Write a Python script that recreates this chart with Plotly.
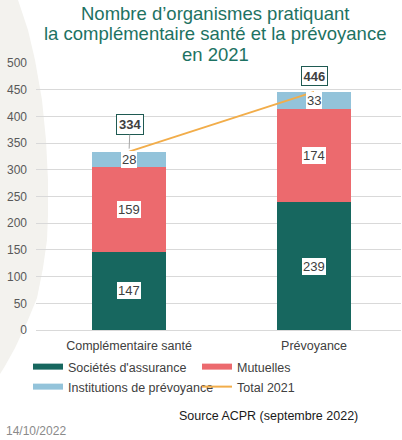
import plotly.graph_objects as go

# ---- data ----
categories = ["Complémentaire santé", "Prévoyance"]
societes = [147, 239]
mutuelles = [159, 174]
institutions = [28, 33]
totals = [334, 446]
series_names = ["Sociétés d'assurance", "Mutuelles", "Institutions de prévoyance", "Total 2021"]
y_ticks = [0, 50, 100, 150, 200, 250, 300, 350, 400, 450, 500]

title_lines = ["Nombre d’organismes pratiquant",
               "la complémentaire santé et la prévoyance",
               "en 2021"]
source_text = "Source ACPR (septembre 2022)"
date_text = "14/10/2022"

# ---- style ----
C_TEAL = "#17675f"
C_RED = "#ec6a6e"
C_BLUE = "#93c3da"
C_ORANGE = "#f2ad4a"
C_TITLE = "#1d7262"
C_TEXT = "#404040"
FONT = "Liberation Sans, Arial, sans-serif"

W, H = 402, 440
ML, MR, MT, MB = 36, 1, 63, 110
PW, PH = W - ML - MR, H - MT - MB


def px(x):
    return (x - ML) / PW


def py(y):
    return 1 - (y - MT) / PH


fig = go.Figure()

for name, vals, col in [(series_names[0], societes, C_TEAL),
                        (series_names[1], mutuelles, C_RED),
                        (series_names[2], institutions, C_BLUE)]:
    fig.add_trace(go.Bar(x=categories, y=vals, name=name, marker_color=col,
                         marker_line_width=0, width=0.4, showlegend=False,
                         hoverinfo="x+y+name"))

fig.add_trace(go.Scatter(x=categories, y=totals, mode="lines", name=series_names[3],
                         line=dict(color=C_ORANGE, width=2), showlegend=False))

# legend-only entries (rectangular swatches), two rows = two legends
for name, col, w, leg in [(series_names[0], C_TEAL, 6, "legend"),
                          (series_names[1], C_RED, 6, "legend"),
                          (series_names[2], C_BLUE, 6, "legend2"),
                          (series_names[3], C_ORANGE, 2, "legend2")]:
    fig.add_trace(go.Scatter(x=[None], y=[None], mode="lines", name=name,
                             line=dict(color=col, width=w), showlegend=True, legend=leg))

# segment labels
annotations = []
for i, cat in enumerate(categories):
    base = 0
    for vals in (societes, mutuelles, institutions):
        v = vals[i]
        annotations.append(dict(x=cat, y=base + v / 2, xref="x", yref="y", text=str(v),
                                showarrow=False, bgcolor="white", borderpad=1,
                                borderwidth=0, bordercolor="rgba(0,0,0,0)",
                                font=dict(family=FONT, size=13, color=C_TEXT)))
        base += v

# total labels
annotations.append(dict(x=categories[0], y=totals[0], xref="x", yref="y",
                        text="<b>%d</b>" % totals[0], showarrow=True, arrowhead=0,
                        arrowwidth=1, arrowcolor="#a6a6a6", ax=1, ay=-27, standoff=3,
                        bgcolor="white", bordercolor="#1f5a52", borderwidth=1, borderpad=2,
                        font=dict(family=FONT, size=13, color=C_TEXT)))
annotations.append(dict(x=categories[1], y=totals[1], xref="x", yref="y",
                        text="<b>%d</b>" % totals[1], showarrow=False, yshift=16,
                        bgcolor="white", bordercolor="#1f5a52", borderwidth=1, borderpad=1.5,
                        font=dict(family=FONT, size=13, color=C_TEXT)))

# title
for txt, yc in zip(title_lines, [13, 34, 55]):
    annotations.append(dict(x=px(215), y=py(yc), xref="paper", yref="paper", text=txt,
                            showarrow=False, xanchor="center", yanchor="middle",
                            font=dict(family=FONT, size=18.5, color=C_TITLE)))

annotations.append(dict(x=px(268), y=py(416), xref="paper", yref="paper", text=source_text,
                        showarrow=False, xanchor="center", yanchor="middle",
                        font=dict(family=FONT, size=12.5, color="#1a1a1a")))
annotations.append(dict(x=px(4), y=py(431), xref="paper", yref="paper", text=date_text,
                        showarrow=False, xanchor="left", yanchor="middle",
                        font=dict(family=FONT, size=12, color="#8a8a8a")))

# beige decorative background arc on the left
edge = [(18, 0), (28, 30), (35, 60), (42, 100), (46, 140), (48, 180), (48, 215),
        (47, 240), (43, 268), (37, 298), (28, 320), (15, 348), (5, 366), (0, 374)]
path = "M %f,%f " % (px(0), py(0))
for ex, ey in edge:
    path += "L %f,%f " % (px(ex), py(ey))
path += "L %f,%f Z" % (px(0), py(374))

legend_common = dict(orientation="h", xanchor="left", yanchor="middle",
                     entrywidth=124, entrywidthmode="pixels", bgcolor="rgba(0,0,0,0)",
                     font=dict(family=FONT, size=12.5, color=C_TEXT), itemwidth=30,
                     traceorder="normal")

fig.update_layout(
    width=W, height=H,
    margin=dict(l=ML, r=MR, t=MT, b=MB),
    paper_bgcolor="white", plot_bgcolor="rgba(0,0,0,0)",
    barmode="stack",
    font=dict(family=FONT, color=C_TEXT),
    shapes=[dict(type="path", path=path, xref="paper", yref="paper",
                 fillcolor="#f3f2ee", line=dict(width=0), layer="below")],
    annotations=annotations,
    xaxis=dict(range=[-0.503, 1.47], showgrid=False, zeroline=False, showline=False,
               tickfont=dict(family=FONT, size=12.5, color=C_TEXT), ticks="",
               ticklabelstandoff=6),
    yaxis=dict(range=[0, 500], tickvals=y_ticks, showgrid=True, gridcolor="#d9d9d9",
               gridwidth=1, zeroline=True, zerolinecolor="#d9d9d9", zerolinewidth=1,
               showline=False, ticks="", ticklabelstandoff=8,
               tickfont=dict(family=FONT, size=12, color="#595959")),
    legend=dict(x=px(28), y=py(367), **legend_common),
    legend2=dict(x=px(28), y=py(387), **legend_common),
    showlegend=True,
)

fig.write_html("out.html", config={"displayModeBar": False},
               post_script="document.body.style.margin='0';")
